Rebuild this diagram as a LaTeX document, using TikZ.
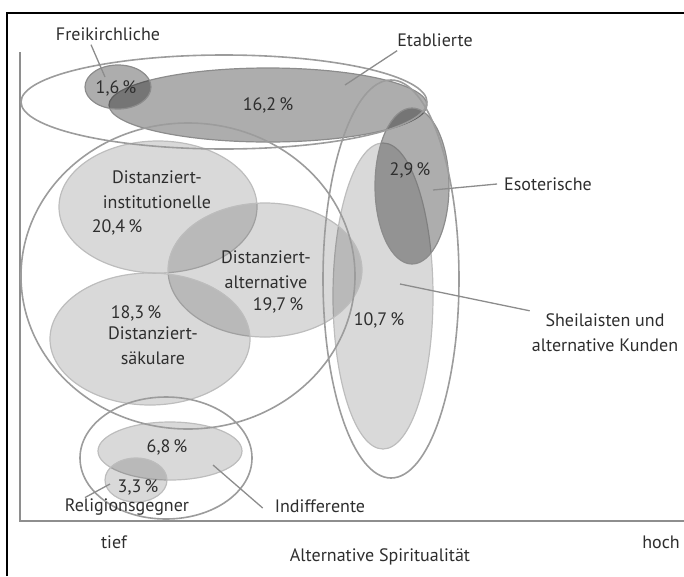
\documentclass[tikz,border=0pt]{standalone}
\usepackage{fontspec}
\setmainfont{PT Sans}
\usetikzlibrary{shapes.geometric}
\definecolor{gr01}{HTML}{9C9C9C}
\definecolor{gr02}{HTML}{BDBDBD}
\definecolor{gr03}{HTML}{8C8C8C}
\definecolor{gr04}{HTML}{8E8E8E}
\definecolor{gr05}{HTML}{2E2E2E}
\tikzset{
  setlight/.style={ellipse, inner sep=0pt, fill=black, fill opacity=0.15, draw=gr02, line width=1.2pt},
  setdark/.style={ellipse, inner sep=0pt, fill=black, fill opacity=0.32, draw=gr03, line width=1.2pt},
  setring/.style={ellipse, inner sep=0pt, draw=gr01, line width=1.6pt},
  leader/.style={draw=gr03, line width=1.3pt},
  lbl/.style={inner sep=0pt, align=center, text=gr05, font=\fontsize{18}{25}\selectfont},
}

\begin{document}
\begin{tikzpicture}[x=1pt, y=-1pt]
            \useasboundingbox (0,0) rectangle (684,576);
            % frame and axes
            \draw[line width=2.6pt] (7,576) -- (7,13) -- (684,13);
            \draw[gr04, line width=2.2pt] (20,52) -- (20,521) -- (684,521);
            % sets
            \node[setdark, minimum width=318, minimum height=74] (etab) at (268,105) {};
            \node[setdark, minimum width=66, minimum height=44] (frei) at (118,87) {};
            \node[setlight, minimum width=100, minimum height=306] (sheil) at (383,296) {};
            \node[setdark, minimum width=74, minimum height=156] (eso) at (412,186) {};
            \node[setlight, minimum width=198, minimum height=132] (dinst) at (158,207) {};
            \node[setlight, minimum width=194, minimum height=134] (dalt) at (265,270) {};
            \node[setlight, minimum width=200, minimum height=132] (dsaek) at (150,339) {};
            \node[setlight, minimum width=144, minimum height=58] (indiff) at (170,451) {};
            \node[setlight, minimum width=62, minimum height=44] (relig) at (136,480) {};
            % outer rings
            \node[setring, minimum width=406, minimum height=94] (etabring) at (224,102) {};
            \node[setring, minimum width=136, minimum height=398] (sheilring) at (391,279) {};
            \node[setring, minimum width=334, minimum height=306] (distring) at (188,276) {};
            \node[setring, minimum width=172, minimum height=122] (indring) at (166,458) {};
            % percentages
            \node[lbl] (freipct) at (116,88) {1,6\,\%};
            \node[lbl] (etabpct) at (268,105) {16,2\,\%};
            \node[lbl] (esopct) at (410,170) {2,9\,\%};
            \node[lbl] (sheilpct) at (379,320) {10,7\,\%};
            \node[lbl] (dinstlbl) at (157,190) {Distanziert-\\institutionelle};
            \node[lbl] (dinstpct) at (117,227) {20,4\,\%};
            \node[lbl] (daltlbl) at (266,270) {Distanziert-\\alternative};
            \node[lbl] (daltpct) at (278,305) {19,7\,\%};
            \node[lbl] (dsaekpct) at (136,313) {18,3\,\%};
            \node[lbl] (dsaeklbl) at (153,346) {Distanziert-\\säkulare};
            \node[lbl] (indiffpct) at (167,447) {6,8\,\%};
            \node[lbl] (religpct) at (138,487) {3,3\,\%};
            % names
            \node[lbl] (freilbl) at (108,34) {Freikirchliche};
            \node[lbl] (etablbl) at (435,40) {Etablierte};
            \node[lbl] (esolbl) at (548,184) {Esoterische};
            \node[lbl] (sheillbl) at (605,333) {Sheilaisten und\\alternative Kunden};
            \node[lbl] (religlbl) at (127,507) {Religionsgegner};
            \node[lbl] (indifflbl) at (320,506) {Indifferente};
            \node[lbl] (tieflbl) at (114,542) {tief};
            \node[lbl] (hochlbl) at (661,542) {hoch};
            \node[lbl] (axislbl) at (380,557) {Alternative Spiritualität};
            % leaders
            \coordinate (freipt) at (105,77);
            \coordinate (etabpt) at (345,85);
            \coordinate (esopt) at (433,190);
            \coordinate (sheilpt) at (400,284);
            \coordinate (indiffpt) at (213,465);
            \coordinate (religpt) at (110,484);
            \draw[leader] ([xshift=-17pt, yshift=-4pt]freilbl.south) -- (freipt);
            \draw[leader] ([yshift=-4pt]etablbl.south west) -- (etabpt);
            \draw[leader] ([xshift=-7pt]esolbl.west) -- (esopt);
            \draw[leader] (sheilpt) -- ([xshift=-2pt, yshift=3pt]sheillbl.north west);
            \draw[leader] (indiffpt) -- ([xshift=-12pt, yshift=-2pt]indifflbl.west);
            \draw[leader] ([xshift=-42pt, yshift=1pt]religlbl.north) -- (religpt);
        \end{tikzpicture}
\end{document}
